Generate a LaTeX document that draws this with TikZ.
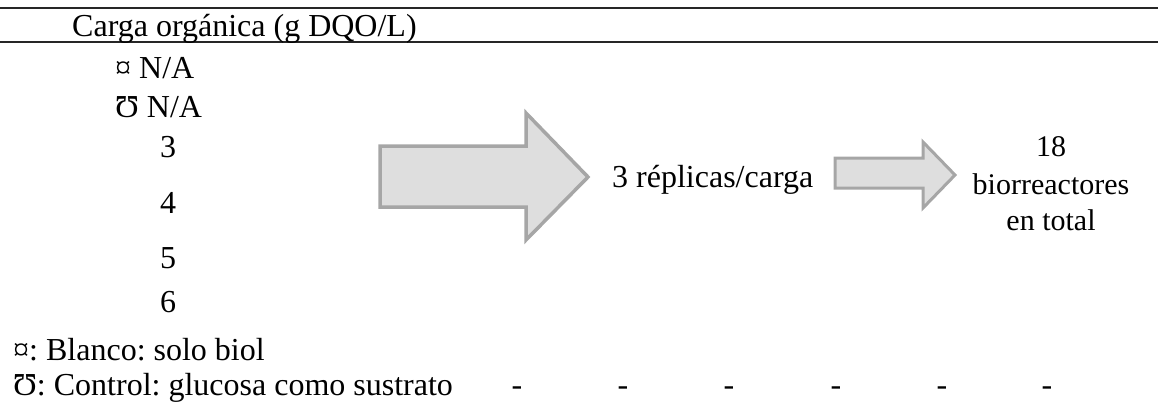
\documentclass[tikz,border=0pt]{standalone}
\usepackage{fontspec}
\setmainfont{Liberation Serif}
\frenchspacing
\begin{document}
\begin{tikzpicture}[x=1pt,y=-1pt,
  txt/.style={inner sep=0pt,font=\fontsize{32}{37}\selectfont},
  txts/.style={inner sep=0pt,font=\fontsize{30}{35}\selectfont},
  rule/.style={line width=1.3pt,black!85},
  bigarrow/.style={draw=black!35,fill=black!13,line width=3.5pt,line join=miter},
  smallarrow/.style={draw=black!35,fill=black!13,line width=3pt,line join=miter}]
\useasboundingbox (0,0) rectangle (1158,404);
% rules
\coordinate (t0) at (0,8); \coordinate (t1) at (1158,8);
\coordinate (h0) at (0,42); \coordinate (h1) at (1158,42);
\draw[rule] (t0) -- (t1);
\draw[rule] (h0) -- (h1);
% header
\node[txt,anchor=base west] (hdr) at (72,37) {Carga orgánica (g DQO/L)};
\node[txt,anchor=base west] (r1) at (115,78) {¤ N/A};
\node[txt,anchor=base west] (r2) at (115,117) {Ʊ N/A};
\node[txt,anchor=base] (r3) at (168,157) {3};
\node[txt,anchor=base] (r4) at (168,213) {4};
\node[txt,anchor=base] (r5) at (168,268) {5};
\node[txt,anchor=base] (r6) at (168,312) {6};
% big arrow
\draw[bigarrow] (380,146) -- (526,146) -- (526,113) -- (588,177) -- (526,240) -- (526,207) -- (380,207) -- cycle;
\node[txt,anchor=base west] (rep) at (612,187) {3 réplicas/carga};
% small arrow
\draw[smallarrow] (835,158) -- (923,158) -- (923,142) -- (955,175) -- (923,208) -- (923,188) -- (835,188) -- cycle;
\node[txts,anchor=base] (tot1) at (1051,156) {18};
\node[txts,anchor=base] (tot2) at (1051,194) {biorreactores};
\node[txts,anchor=base] (tot3) at (1051,230) {en total};
% footer
\node[txt,anchor=base west] (f1) at (13,360) {¤: Blanco: solo biol};
\node[txt,anchor=base west] (f2) at (13,395) {Ʊ: Control: glucosa como sustrato};
\foreach \xx/\nm in {517/d1,623/d2,729/d3,836/d4,942/d5,1047/d6}
  \node[txt,anchor=base] (\nm) at (\xx,395) {-};
\end{tikzpicture}
\end{document}
